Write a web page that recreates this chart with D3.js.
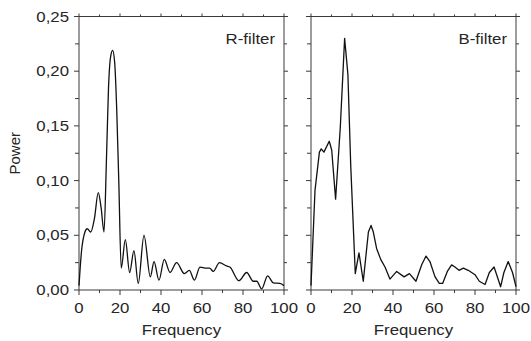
<!DOCTYPE html>
<html>
<head>
<meta charset="utf-8">
<script src="https://cdn.jsdelivr.net/npm/d3@7"></script>
<style>
  body { margin: 0; background: #fff; }
  text { font-family: "Liberation Sans", Arial, sans-serif; fill: #262626; }
</style>
</head>
<body>
<svg id="chart" width="531" height="341"></svg>
<script>
// R-filter power spectrum
const rFreq  = [0, 1.2, 2.9, 4.0, 5.7, 7.5, 9.4, 10.8, 12.2, 13.4, 14.4, 15.4, 16.4, 17.4, 18.4, 19.4, 20.6, 22.6, 24.7, 26.8, 28.9, 31.7, 34.8, 36.6, 39.0, 41.6, 44.4, 47.6, 51.4, 53.8, 56.3, 59.0, 62.1, 63.7, 65.5, 68.5, 72.0, 73.6, 78.0, 81.8, 85.0, 86.7, 89.1, 92.0, 94.8, 98.0, 100];
const rPower = [0.004, 0.035, 0.053, 0.056, 0.053, 0.065, 0.089, 0.075, 0.053, 0.12, 0.185, 0.213, 0.219, 0.208, 0.165, 0.10, 0.020, 0.046, 0.016, 0.036, 0.006, 0.050, 0.012, 0.026, 0.009, 0.028, 0.016, 0.025, 0.015, 0.018, 0.009, 0.021, 0.020, 0.020, 0.017, 0.025, 0.022, 0.021, 0.0085, 0.016, 0.008, 0.008, 0.001, 0.013, 0.0065, 0.006, 0.004];

// B-filter power spectrum
const bFreq  = [0, 1.95, 4.1, 5.0, 6.3, 8.9, 10.1, 12.0, 14.3, 16.4, 18.0, 19.4, 21.6, 23.4, 25.5, 28.0, 29.3, 30.4, 32.0, 34.0, 36.1, 38.5, 41.8, 45.4, 48.0, 51.2, 54.0, 56.1, 58.0, 60.5, 62.6, 64.2, 66.5, 68.6, 70.2, 72.2, 74.3, 76.7, 80.0, 82.1, 84.9, 87.0, 89.3, 90.2, 92.5, 94.1, 96.2, 98.3, 100];
const bPower = [0.004, 0.091, 0.126, 0.129, 0.126, 0.136, 0.128, 0.083, 0.149, 0.230, 0.197, 0.113, 0.015, 0.034, 0.008, 0.053, 0.059, 0.053, 0.038, 0.028, 0.021, 0.010, 0.017, 0.012, 0.015, 0.008, 0.023, 0.031, 0.026, 0.012, 0.006, 0.006, 0.017, 0.023, 0.021, 0.018, 0.020, 0.018, 0.014, 0.008, 0.005, 0.016, 0.021, 0.016, 0.003, 0.016, 0.026, 0.016, 0.003];

const xTicks = [0, 20, 40, 60, 80, 100];
const yTicks = [0, 0.05, 0.10, 0.15, 0.20, 0.25];
const panelNames = ["R-filter", "B-filter"];

const svg = d3.select('#chart');
const plotTop = 16.5, plotBottom = 290;
const panels = [
  { left: 79, right: 284, freq: rFreq, power: rPower, name: panelNames[0], smooth: true, yLabels: true },
  { left: 311, right: 516, freq: bFreq, power: bPower, name: panelNames[1], smooth: false, yLabels: false }
];

const y = d3.scaleLinear().domain([0, 0.25]).range([plotBottom, plotTop]);
const fmt = d => d3.format('.2f')(d).replace('.', ',');
const sx = 1.12; // the original figure is slightly stretched horizontally

function htext(g, x, yy, str, anchor, size) {
  g.append('text')
    .attr('transform', `translate(${x},${yy}) scale(${sx},1)`)
    .attr('text-anchor', anchor)
    .style('font-size', size + 'px')
    .text(str);
}

panels.forEach(p => {
  const x = d3.scaleLinear().domain([0, 100]).range([p.left, p.right]);
  const g = svg.append('g');

  // frame
  g.append('rect')
    .attr('x', p.left).attr('y', plotTop)
    .attr('width', p.right - p.left).attr('height', plotBottom - plotTop)
    .attr('fill', 'none').attr('stroke', '#3a3a3a').attr('stroke-width', 1);

  const minorX = d3.range(0, 101, 10);
  const minorY = d3.range(0, 0.2501, 0.025);

  // x ticks bottom + top (outward)
  g.selectAll('.xb').data(minorX).join('line')
    .attr('x1', d => x(d)).attr('x2', d => x(d))
    .attr('y1', plotBottom).attr('y2', d => plotBottom + (d % 20 === 0 ? 5 : 3))
    .attr('stroke', '#3a3a3a');
  g.selectAll('.xt').data(minorX).join('line')
    .attr('x1', d => x(d)).attr('x2', d => x(d))
    .attr('y1', plotTop).attr('y2', d => plotTop - (d % 20 === 0 ? 3 : 2))
    .attr('stroke', '#3a3a3a');

  // y ticks left + right (outward)
  g.selectAll('.yl').data(minorY).join('line')
    .attr('x1', p.left).attr('x2', (d, i) => p.left - (i % 2 === 0 ? 5 : 4))
    .attr('y1', d => y(d)).attr('y2', d => y(d))
    .attr('stroke', '#3a3a3a');
  g.selectAll('.yr').data(minorY).join('line')
    .attr('x1', p.right).attr('x2', (d, i) => p.right + (i % 2 === 0 ? 4 : 3))
    .attr('y1', d => y(d)).attr('y2', d => y(d))
    .attr('stroke', '#3a3a3a');

  xTicks.forEach(t => htext(g, x(t), 313, String(t), 'middle', 15));
  if (p.yLabels) {
    yTicks.forEach(t => htext(g, p.left - 10, y(t) + 5, fmt(t), 'end', 15));
  }

  htext(g, (p.left + p.right) / 2, 335, 'Frequency', 'middle', 15);
  htext(g, p.right - 9, 44, p.name, 'end', 15);

  const line = d3.line()
    .x(d => x(d[0]))
    .y(d => y(d[1]))
    .curve(p.smooth ? d3.curveMonotoneX : d3.curveLinear);

  g.append('path')
    .datum(p.freq.map((f, i) => [f, p.power[i]]))
    .attr('fill', 'none')
    .attr('stroke', '#111')
    .attr('stroke-width', 1.3)
    .attr('stroke-linejoin', 'round')
    .attr('d', line);
});

svg.append('text')
  .attr('transform', `translate(20,${(plotTop + plotBottom) / 2}) rotate(-90)`)
  .attr('text-anchor', 'middle')
  .style('font-size', '15px')
  .text('Power');
</script>
</body>
</html>
